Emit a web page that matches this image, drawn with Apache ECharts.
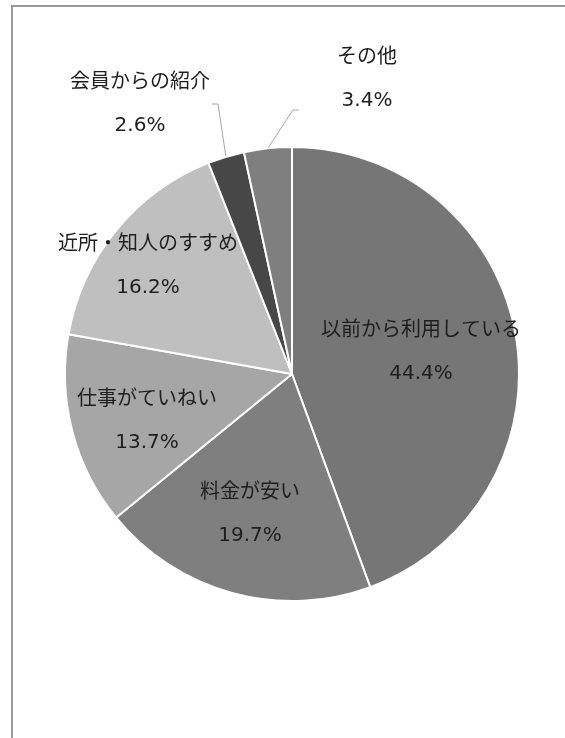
<!DOCTYPE html>
<html>
<head>
<meta charset="utf-8">
<script src="https://cdn.jsdelivr.net/npm/echarts@6/dist/echarts.min.js"></script>
<style>
html,body{margin:0;padding:0;background:#fff;}
#frame{position:absolute;left:11px;top:5px;width:600px;height:800px;border-left:2px solid #9a9a9a;border-top:2px solid #9a9a9a;box-sizing:border-box;}
#chart{position:absolute;left:0;top:0;width:565px;height:738px;}
</style>
</head>
<body>
<div id="frame"></div>
<div id="chart"></div>
<script>
const categories = ['以前から利用している','料金が安い','仕事がていねい','近所・知人のすすめ','会員からの紹介','その他'];
const values = [44.4, 19.7, 13.7, 16.2, 2.6, 3.4];
const percentLabels = ['44.4%','19.7%','13.7%','16.2%','2.6%','3.4%'];

const sliceColors = ['#767676','#7f7f7f','#a6a6a6','#bfbfbf','#474747','#7f7f7f'];
// label box centres and paddings (layout, not data)
const labelPos = [[421,352],[250,514],[147,421],[148,266],[140,104],[367,110]];
const labelPad = [[0,0],[0,0],[0,0],[0,0],[0,2],[0,38,0,38]];
const outside = [false,false,false,false,true,true];
const extraBottomLine = [false,false,false,false,false,true];

const chart = echarts.init(document.getElementById('chart'), null, {renderer:'canvas'});
const font = "'DejaVu Sans','Noto Sans CJK JP',sans-serif";
const txt = {fontFamily:font,fontSize:20,lineHeight:43,color:'#1e1e1e',align:'center'};
chart.setOption({
  animation:false,
  series:[{
    type:'pie',
    center:[292,374],
    radius:227,
    startAngle:90,
    clockwise:true,
    avoidLabelOverlap:false,
    itemStyle:{borderColor:'#ffffff',borderWidth:2},
    label:{
      show:true,
      position:'outside',
      formatter:p=>{
        let s='{t|'+p.name+'}\n{t|'+percentLabels[p.dataIndex]+'}';
        if(extraBottomLine[p.dataIndex]) s+='\n{g| }';
        return s;
      },
      fontFamily:font,
      fontSize:20,
      lineHeight:43,
      color:'#1e1e1e',
      align:'center',
      rich:{t:txt,g:{fontFamily:font,fontSize:20,lineHeight:62,color:'#1e1e1e'}}
    },
    labelLine:{show:true,length:10,length2:6,lineStyle:{color:'#a6a6a6',width:1}},
    labelLayout:function(params){
      const i = params.dataIndex;
      return {x:labelPos[i][0], y:labelPos[i][1], align:'center', verticalAlign:'middle'};
    },
    emphasis:{disabled:true},
    data:categories.map((c,i)=>({
      name:c,
      value:values[i],
      itemStyle:{color:sliceColors[i]},
      label:{padding:labelPad[i]},
      labelLine:{show:outside[i]}
    }))
  }]
});
</script>
</body>
</html>
